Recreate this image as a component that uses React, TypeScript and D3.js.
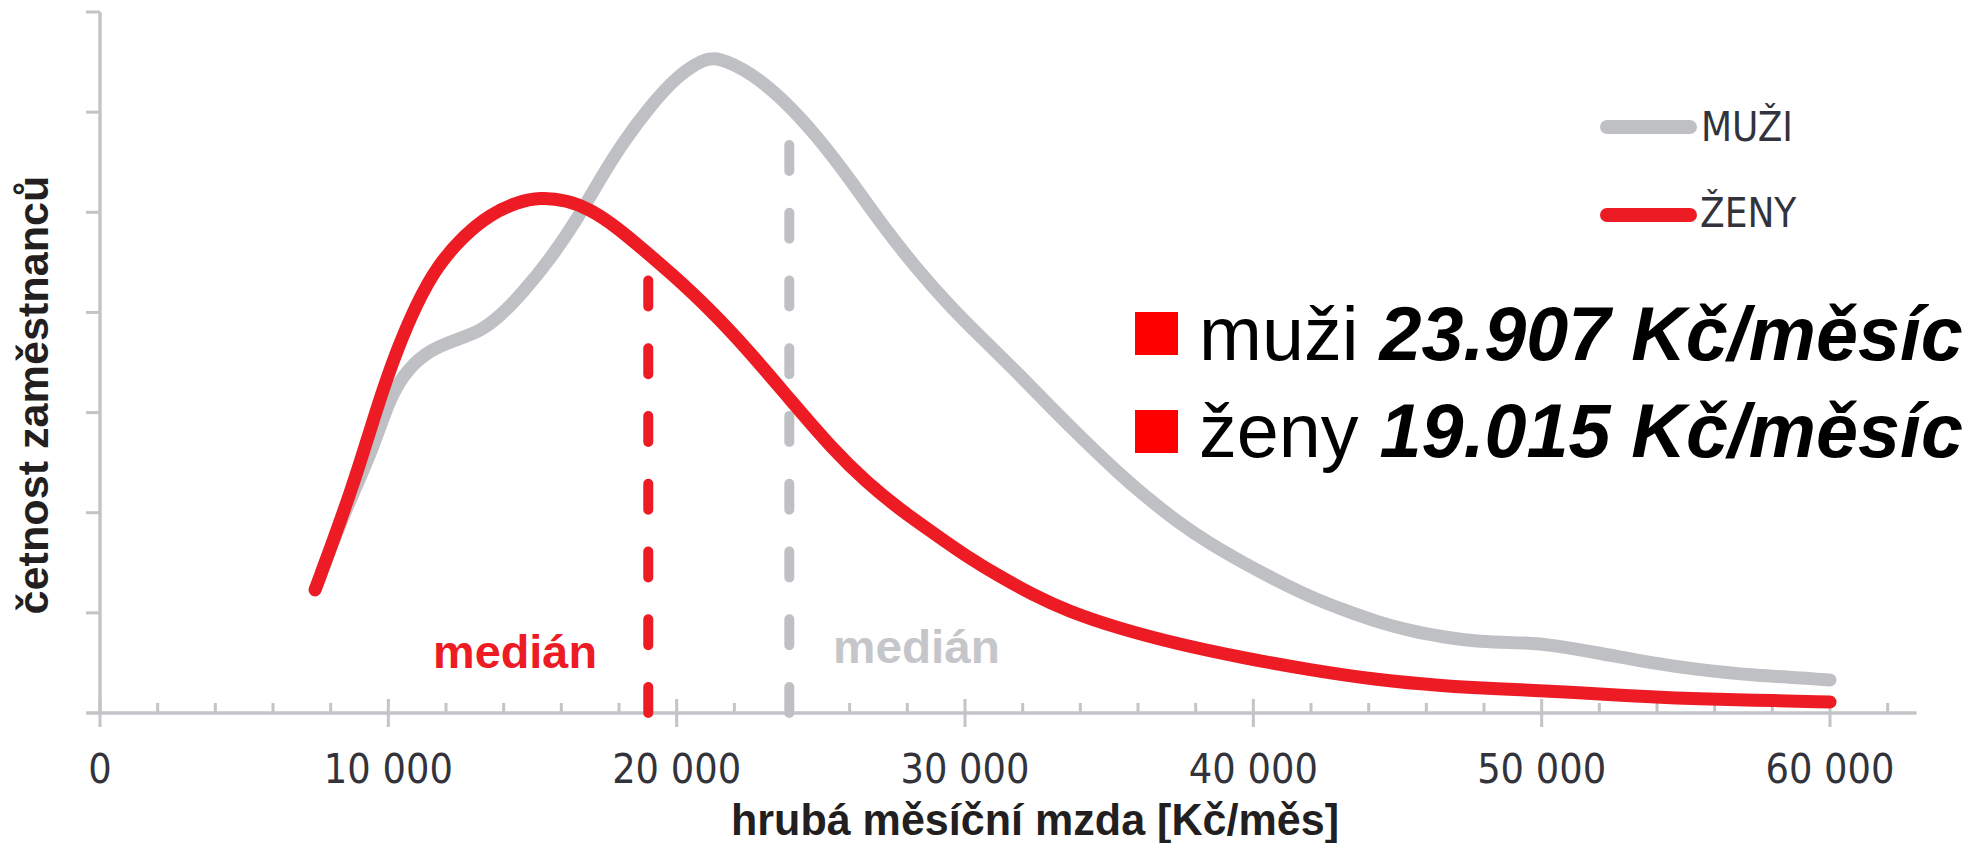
import React from "react";
import * as d3 from "d3";

// salary (CZK / month)
const menSalary = [7460, 8500, 9370, 10060, 10650, 11450, 12380, 13180, 13870, 14670, 15610, 16550, 17340, 18140, 19080, 20010, 20920, 21450, 22550, 23690, 24870, 26010, 27160, 28340, 29480, 30630, 31810, 32950, 34100, 35380, 36180, 37360, 38500, 39650, 40830, 41970, 43120, 44290, 45440, 46580, 47760, 49600, 50300, 52000, 53760, 55500, 57230, 60000];
// frequency (relative units, 1 unit = one y tick)
const menFreq = [1.23, 2.03, 2.56, 3.16, 3.43, 3.63, 3.73, 3.81, 3.96, 4.2, 4.53, 4.93, 5.33, 5.7, 6.06, 6.36, 6.53, 6.55, 6.4, 6.13, 5.76, 5.33, 4.86, 4.43, 4.06, 3.73, 3.4, 3.06, 2.73, 2.38, 2.18, 1.91, 1.69, 1.5, 1.32, 1.16, 1.03, 0.91, 0.82, 0.76, 0.71, 0.7, 0.68, 0.6, 0.5, 0.43, 0.38, 0.33];

const womenSalary = [7460, 8780, 9610, 10300, 11000, 11690, 12590, 13530, 14460, 15260, 16200, 17000, 17930, 18830, 19770, 21160, 22550, 23930, 25420, 26600, 27750, 28890, 30070, 31220, 32360, 33540, 35380, 37360, 39650, 41970, 44290, 46580, 48500, 50300, 52000, 53800, 55500, 57200, 60000];
const womenFreq = [1.23, 2.26, 3.06, 3.63, 4.1, 4.46, 4.76, 4.98, 5.1, 5.15, 5.12, 5.03, 4.85, 4.63, 4.4, 4.03, 3.6, 3.13, 2.63, 2.3, 2.03, 1.8, 1.56, 1.36, 1.18, 1.02, 0.84, 0.69, 0.55, 0.43, 0.33, 0.27, 0.24, 0.22, 0.19, 0.16, 0.14, 0.13, 0.11];

const medianMen = 23907;
const medianWomen = 19015;
const medianMenTop = 5.7;
const medianWomenTop = 4.35;

const xTicks = [0, 10000, 20000, 30000, 40000, 50000, 60000];
const xTickLabels = ["0", "10 000", "20 000", "30 000", "40 000", "50 000", "60 000"];
const yTicks = [1, 2, 3, 4, 5, 6, 7];

const legendLabels = ["MUŽI", "ŽENY"];
const summaryNames = ["muži", "ženy"];
const summaryValues = ["23.907 Kč/měsíc", "19.015 Kč/měsíc"];

const GRAY = "#bfc0c4";
const RED = "#ed1c24";
const AXIS = "#c3c4c8";

export default function App() {
  const x = d3.scaleLinear().domain([0, 60000]).range([100, 1830]);
  const y = d3.scaleLinear().domain([0, 7]).range([713, 12]);
  const line = d3
    .line<[number, number]>()
    .x((d) => x(d[0]))
    .y((d) => y(d[1]))
    .curve(d3.curveBasis);

  const men: [number, number][] = menSalary.map((s, i) => [s, menFreq[i]]);
  const women: [number, number][] = womenSalary.map((s, i) => [s, womenFreq[i]]);

  const minor = d3.range(2000, 63000, 2000).filter((v) => v % 10000 !== 0);
  const narrow = "'Liberation Sans Narrow', 'DejaVu Sans Condensed', sans-serif";
  const arial = "'Liberation Sans', Arial, sans-serif";

  return (
    <div style={{ position: "absolute", left: 0, top: 0 }}>
      <svg width={1975} height={843} style={{ display: "block", background: "#fff" }}>
        {/* axes */}
        <line x1={86} x2={x(63000)} y1={y(0)} y2={y(0)} stroke={AXIS} strokeWidth={3.5} />
        <line x1={x(0)} x2={x(0)} y1={y(7)} y2={y(0)} stroke={AXIS} strokeWidth={3.5} />
        {yTicks.map((t) => (
          <line key={"yt" + t} x1={86} x2={x(0)} y1={y(t)} y2={y(t)} stroke={AXIS} strokeWidth={3} />
        ))}
        {xTicks.map((t) => (
          <line key={"xt" + t} x1={x(t)} x2={x(t)} y1={y(0) - 14} y2={y(0) + 14} stroke={AXIS} strokeWidth={3} />
        ))}
        {minor.map((t) => (
          <line key={"xm" + t} x1={x(t)} x2={x(t)} y1={y(0) - 10} y2={y(0)} stroke={AXIS} strokeWidth={3} />
        ))}
        {xTicks.map((t, i) => (
          <text key={"xl" + t} x={x(t)} y={783} textAnchor="middle" fontFamily={narrow} fontSize={41} fill="#33333b">
            {xTickLabels[i]}
          </text>
        ))}
        <text x={731} y={835} fontFamily={arial} fontWeight="bold" fontSize={44} fill="#231f20" textLength={608} lengthAdjust="spacingAndGlyphs">
          hrubá měsíční mzda [Kč/měs]
        </text>
        <text transform="translate(48,395) rotate(-90)" textAnchor="middle" fontFamily={arial} fontWeight="bold" fontSize={43} fill="#231f20" textLength={439} lengthAdjust="spacingAndGlyphs">
          četnost zaměstnanců
        </text>

        {/* medians */}
        <line x1={x(medianMen)} x2={x(medianMen)} y1={y(0)} y2={y(medianMenTop)} stroke={GRAY} strokeWidth={10} strokeDasharray="26 41.75" strokeLinecap="round" />
        <line x1={x(medianWomen)} x2={x(medianWomen)} y1={y(0)} y2={y(medianWomenTop)} stroke={RED} strokeWidth={10} strokeDasharray="26 41.75" strokeLinecap="round" />
        <text x={433} y={668} fontFamily={arial} fontWeight="bold" fontSize={46} fill={RED} textLength={164} lengthAdjust="spacingAndGlyphs">medián</text>
        <text x={833} y={663} fontFamily={arial} fontWeight="bold" fontSize={46} fill="#c5c6ca" textLength={167} lengthAdjust="spacingAndGlyphs">medián</text>

        {/* curves */}
        <path d={line(men) || ""} fill="none" stroke={GRAY} strokeWidth={13} strokeLinecap="round" strokeLinejoin="round" />
        <path d={line(women) || ""} fill="none" stroke={RED} strokeWidth={13} strokeLinecap="round" strokeLinejoin="round" />

        {/* legend */}
        <line x1={1607} x2={1690} y1={127} y2={127} stroke={GRAY} strokeWidth={14} strokeLinecap="round" />
        <line x1={1607} x2={1690} y1={215} y2={215} stroke={RED} strokeWidth={14} strokeLinecap="round" />
        <text x={1701} y={141} fontFamily={narrow} fontSize={40} fill="#33333b">{legendLabels[0]}</text>
        <text x={1700} y={227} fontFamily={narrow} fontSize={40} fill="#33333b">{legendLabels[1]}</text>

        {/* summary */}
        {summaryNames.map((n, i) => (
          <g key={"s" + i}>
            <rect x={1135} y={312 + i * 98} width={43} height={43} fill="#ff0000" />
            <text x={1199} y={360 + i * 97} fontFamily={arial} fontSize={75.5} fill="#000">
              {n + " "}
              <tspan fontWeight="bold" fontStyle="italic">{summaryValues[i]}</tspan>
            </text>
          </g>
        ))}
      </svg>
    </div>
  );
}
